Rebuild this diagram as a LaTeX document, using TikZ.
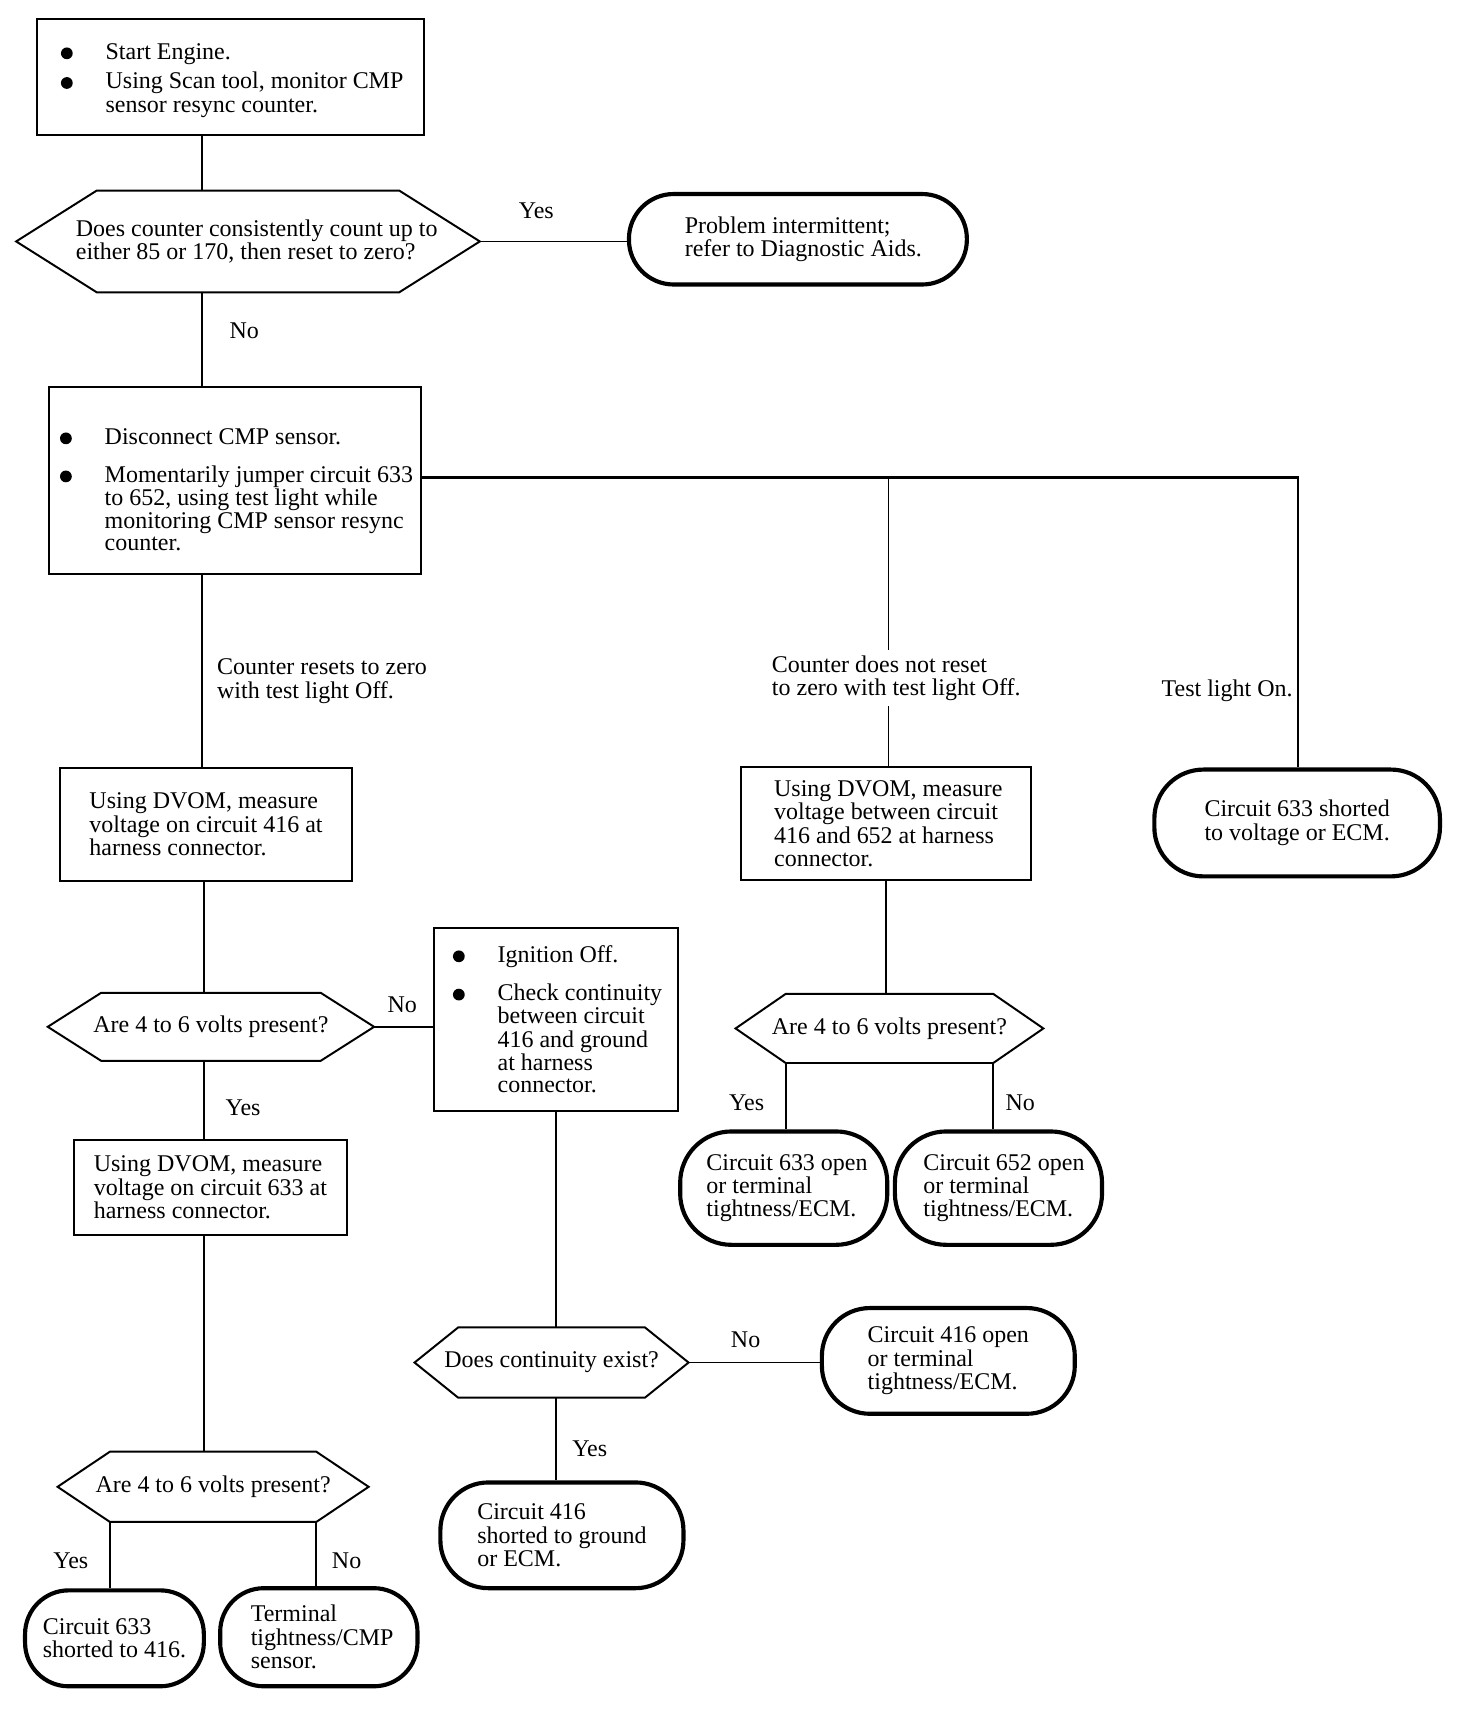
\documentclass[tikz,border=0pt]{standalone}
\usepackage{fontspec}
\setmainfont{Liberation Serif}
\newcommand\bul{\makebox[44pt][l]{\hspace{3pt}\tikz[baseline=-5.5pt]\fill (0pt,0pt) circle (5.4pt);}}
\newcommand\hexa[2]{\draw[hexline] ([xshift=#2pt]#1.north west) -- ([xshift=-#2pt]#1.north east) -- (#1.east) -- ([xshift=-#2pt]#1.south east) -- ([xshift=#2pt]#1.south west) -- (#1.west) -- cycle;}
\tikzset{
  base/.style={font=\fontsize{22}{21.5}\selectfont, inner sep=0pt},
  box/.style={base, draw, line width=1.8pt, align=left},
  term/.style={base, draw, line width=3.8pt, align=left, rounded corners=#1},
  hexn/.style={base, align=left},
  hexline/.style={line width=1.8pt, line join=miter},
  conn/.style={line width=1.6pt},
  lab/.style={base, align=left},
}
\begin{document}
\begin{tikzpicture}[x=1pt,y=-1pt]
\useasboundingbox (0,0) rectangle (1350.4,1570.6);

% ---- nodes ----
\node[box, minimum width=355, minimum height=107] (A) at (211.5,70.5)
 {\begin{tabular}{@{}l@{}l@{}}\rule{0pt}{23pt}\bul & Start Engine.\\[5.5pt]\bul & Using Scan tool, monitor CMP\\ & sensor resync counter.\end{tabular}};

\node[hexn, minimum width=425, minimum height=93] (D1) at (227.5,221.5)
 {\hspace*{16pt}Does counter consistently count up to\\\hspace*{16pt}either 85 or 170, then reset to zero?};
\hexa{D1}{74}

\node[term=41pt, minimum width=310, minimum height=83] (T1) at (732,219.5)
 {\hspace*{10pt}Problem intermittent;\\\hspace*{10pt}refer to Diagnostic Aids.};

\node[box, minimum width=341, minimum height=172] (B) at (215.5,441)
 {\fontsize{22}{20.5}\selectfont\begin{tabular}{@{}l@{}l@{}}\rule{0pt}{37pt}\bul & Disconnect CMP sensor.\\[13.5pt]\bul & Momentarily jumper circuit 633\\ & to 652, using test light while\\ & monitoring CMP sensor resync\\ & counter.\end{tabular}};

\node[box, minimum width=268, minimum height=103] (D) at (189,756.5)
 {Using DVOM, measure\\voltage on circuit 416 at\\harness connector.};

\node[hexn, minimum width=299, minimum height=62] (D2) at (193.5,942)
 {Are 4 to 6 volts present?};
\hexa{D2}{49}

\node[box, minimum width=224, minimum height=168] (E) at (510,935)
 {\fontsize{22}{20.2}\selectfont\begin{tabular}{@{}l@{}l@{}}\rule{0pt}{21pt}\bul & Ignition Off.\\[13.8pt]\bul & Check continuity\\ & between circuit\\ & 416 and ground\\ & at harness\\ & connector.\end{tabular}};

\node[box, minimum width=250, minimum height=87] (F) at (193,1089.5)
 {Using DVOM, measure\\voltage on circuit 633 at\\harness connector.};

\node[hexn, minimum width=285, minimum height=64] (D3) at (195.5,1364)
 {Are 4 to 6 volts present?};
\hexa{D3}{48}

\node[term=40pt, minimum width=164, minimum height=88] (T3) at (105,1503)
 {Circuit 633\\shorted to 416.};
\node[term=40pt, minimum width=181, minimum height=90] (T4) at (292.5,1502)
 {\hspace*{6pt}Terminal\\\hspace*{6pt}tightness/CMP\\\hspace*{6pt}sensor.};

\node[hexn, minimum width=251, minimum height=64] (D4) at (506,1250)
 {Does continuity exist?};
\hexa{D4}{40}

\node[term=44pt, minimum width=232, minimum height=97] (T5) at (870,1248.5)
 {Circuit 416 open\\or terminal\\tightness/ECM.};
\node[term=44pt, minimum width=223, minimum height=97] (T6) at (515.5,1408.5)
 {Circuit 416\\shorted to ground\\or ECM.};

\node[box, minimum width=266, minimum height=103] (C) at (813,755.5)
 {\hspace*{4pt}Using DVOM, measure\\\hspace*{4pt}voltage between circuit\\\hspace*{4pt}416 and 652 at harness\\\hspace*{4pt}connector.};

\node[hexn, minimum width=282, minimum height=63] (D5) at (816,943.5)
 {Are 4 to 6 volts present?};
\hexa{D5}{46}

\node[term=47pt, minimum width=190, minimum height=104] (T7) at (719,1090)
 {\hspace*{6pt}Circuit 633 open\\\hspace*{6pt}or terminal\\\hspace*{6pt}tightness/ECM.};
\node[term=47pt, minimum width=190, minimum height=104] (T8) at (916,1090)
 {\hspace*{10pt}Circuit 652 open\\\hspace*{10pt}or terminal\\\hspace*{10pt}tightness/ECM.};

\node[term=45pt, minimum width=262, minimum height=98] (T2) at (1190,755)
 {Circuit 633 shorted\\to voltage or ECM.};

% ---- connectors ----
\coordinate (sp1) at (185,0);
\coordinate (sp2) at (187,0);
\coordinate (sp3) at (510,0);
\coordinate (j1) at (815,438);
\coordinate (j2) at (1191,438);
\coordinate (d3l) at ([xshift=48pt]D3.south west);
\coordinate (d3r) at ([xshift=-48pt]D3.south east);
\coordinate (d5l) at ([xshift=46pt]D5.south west);
\coordinate (d5r) at ([xshift=-46pt]D5.south east);

\draw[conn] (A.south -| sp1) -- (D1.north -| sp1);
\draw[conn] (D1.south -| sp1) -- (B.north -| sp1);
\draw[conn] (B.south -| sp1) -- (D.north -| sp1);
\draw[conn] (D.south -| sp2) -- (D2.north -| sp2);
\draw[conn] (D2.south -| sp2) -- (F.north -| sp2);
\draw[conn] (F.south -| sp2) -- (D3.north -| sp2);
\draw[conn] (D1.east) -- (D1.east -| T1.west);
\draw[conn] (D2.east) -- (D2.east -| E.west);
\draw[conn] (E.south -| sp3) -- (D4.north -| sp3);
\draw[conn] (D4.south -| sp3) -- (T6.north -| sp3);
\draw[conn] (D4.east) -- (D4.east -| T5.west);
\draw[conn] (d3l) -- (d3l |- T3.north);
\draw[conn] (d3r) -- (d3r |- T4.north);
\draw[line width=2pt] (B.east |- j1) -- (j2) -- (j2 |- T2.north);
\draw[conn] (j1) -- (j1 |- C.north);
\draw[conn] (C.south) -- (C.south |- D5.north);
\draw[conn] (d5l) -- (d5l |- T7.north);
\draw[conn] (d5r) -- (d5r |- T8.north);

% ---- labels ----
\node[lab] (lyes1) at (492,193) {Yes};
\node[lab] (lno1) at (224,303) {No};
\node[lab, anchor=west] (lreset) at (199,625) {Counter resets to zero\\with test light Off.};
\node[lab, anchor=west, fill=white, inner ysep=5pt] (lnoreset) at (708,622) {Counter does not reset\\to zero with test light Off.};
\node[lab, anchor=east] (lon) at (1186,634) {Test light On.};
\node[lab] (lno2) at (369,922) {No};
\node[lab] (lyes2) at (223,1016) {Yes};
\node[lab] (lyes3) at (65,1432) {Yes};
\node[lab] (lno3) at (318,1432) {No};
\node[lab] (lno4) at (684,1229) {No};
\node[lab] (lyes4) at (541,1329) {Yes};
\node[lab] (lyes5) at (685,1012) {Yes};
\node[lab] (lno5) at (936,1012) {No};
\end{tikzpicture}
\end{document}
